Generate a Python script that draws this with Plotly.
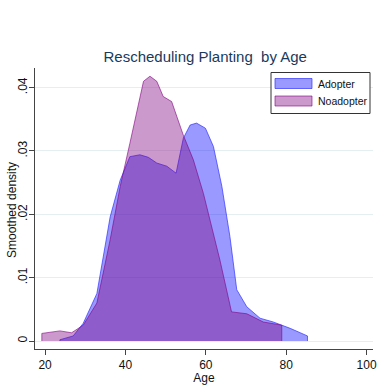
import plotly.graph_objects as go

# Smoothed age densities, read as (age, density) pairs
adopter_age = [23.7, 27.0, 29.5, 32.9, 36.2, 38.7, 41.1, 43.6, 45.7, 47.8, 50.3, 52.6,
               54.4, 56.1, 57.7, 59.9, 61.9, 64.0, 66.0, 67.7, 70.2, 73.5, 76.8, 81.0, 85.3]
adopter_density = [0.0002, 0.0008, 0.0028, 0.0075, 0.0196, 0.0254, 0.0291, 0.0294, 0.0290,
                   0.0281, 0.0276, 0.0265, 0.0320, 0.0341, 0.0344, 0.0336, 0.0307, 0.0244,
                   0.0165, 0.0081, 0.0054, 0.0036, 0.0030, 0.0020, 0.0008]

noadopter_age = [19.2, 23.7, 26.6, 29.5, 32.9, 36.2, 38.7, 41.1, 44.5, 46.1, 47.8, 49.4,
                 51.5, 54.4, 56.9, 59.4, 61.5, 63.5, 66.4, 70.2, 74.3, 78.9]
noadopter_density = [0.0012, 0.0016, 0.0013, 0.0025, 0.0060, 0.0160, 0.0244, 0.0312,
                     0.0410, 0.0418, 0.0410, 0.0386, 0.0378, 0.0325, 0.0286, 0.0233,
                     0.0180, 0.0128, 0.0046, 0.0043, 0.0030, 0.0025]

series_names = ["Adopter", "Noadopter"]
x_ticks = [20, 40, 60, 80, 100]
y_ticks = [0, 0.01, 0.02, 0.03, 0.04]
y_tick_labels = ["0", ".01", ".02", ".03", ".04"]

fills = ["rgba(0,0,255,0.4)", "rgba(128,0,128,0.4)"]
edges = ["rgba(40,40,255,0.65)", "rgba(128,0,128,0.6)"]


def closed_area(xs, ys):
    # close the shape down to the baseline at both ends
    return [xs[0]] + xs + [xs[-1]], [0] + ys + [0]


fig = go.Figure()
for name, xs, ys, fc, lc in zip(series_names,
                                [adopter_age, noadopter_age],
                                [adopter_density, noadopter_density],
                                fills, edges):
    cx, cy = closed_area(xs, ys)
    fig.add_trace(go.Scatter(
        x=cx, y=cy, name=name, mode="lines", fill="toself",
        fillcolor=fc, line=dict(color=lc, width=1), showlegend=False,
    ))

# Legend box drawn in paper coordinates (plot area spans x 35..373, y 68..349 px)
W, H = 380, 385
L, R, T, B = 35, 7, 68, 36
pw, ph = W - L - R, H - T - B


def px(x):
    return (x - L) / pw


def py(y):
    return (H - B - y) / ph


shapes = [dict(type="rect", xref="paper", yref="paper",
               x0=px(271), x1=px(370), y0=py(113.5), y1=py(72.5),
               line=dict(color="#333", width=1), fillcolor="white", layer="above")]
annotations = []
for i, (name, fc, lc) in enumerate(zip(series_names, fills, edges)):
    yc = 83.5 + i * 17.5
    shapes.append(dict(type="rect", xref="paper", yref="paper",
                       x0=px(275), x1=px(312), y0=py(yc + 5), y1=py(yc - 5),
                       line=dict(color=lc, width=1), fillcolor=fc, layer="above"))
    annotations.append(dict(xref="paper", yref="paper", x=px(316), y=py(yc),
                            xanchor="left", yanchor="middle", showarrow=False,
                            text=name, font=dict(size=10.5, color="#111")))

# vertical axis title
annotations.append(dict(xref="paper", yref="paper", x=px(12), y=py(210),
                        xanchor="center", yanchor="middle", showarrow=False,
                        textangle=-90, text="Smoothed density",
                        font=dict(size=12, color="#111")))

fig.update_layout(
    width=W, height=H,
    margin=dict(l=L, r=R, t=T, b=B),
    paper_bgcolor="white", plot_bgcolor="white",
    font=dict(family="Liberation Sans, Arial, sans-serif", size=12, color="#111"),
    title=dict(text="Rescheduling Planting  by Age", x=0.54, xanchor="center",
               y=0.852, yanchor="middle",
               font=dict(size=15, color="#1a3a5c")),
    showlegend=False,
    shapes=shapes,
    annotations=annotations,
    xaxis=dict(
        range=[17.5, 101.6], tickvals=x_ticks, ticks="outside", ticklen=5,
        tickcolor="#444", showline=True, linecolor="#444", linewidth=1,
        showgrid=False, zeroline=False, automargin=False,
        tickfont=dict(size=12),
        title=dict(text="Age", standoff=0, font=dict(size=12)),
    ),
    yaxis=dict(
        range=[-0.00126, 0.0431], tickvals=y_ticks, ticktext=y_tick_labels,
        tickangle=-90, ticks="outside", ticklen=5, tickcolor="#444",
        ticklabelstandoff=-3,
        showline=True, linecolor="#444", linewidth=1, automargin=False,
        showgrid=True, gridcolor="#e6eff0", gridwidth=1, zeroline=False,
        tickfont=dict(size=12),
    ),
)

fig.write_html("out.html")
